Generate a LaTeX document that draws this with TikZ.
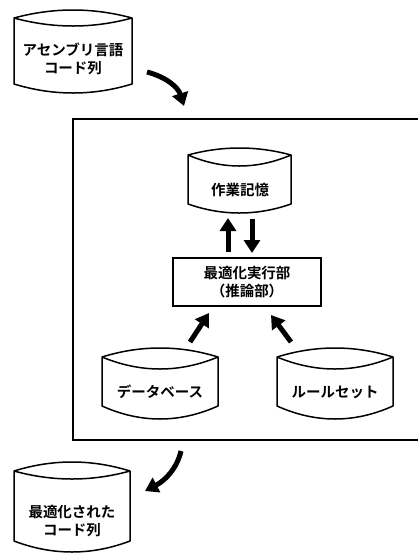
\documentclass[tikz,border=0pt]{standalone}
\usepackage{fontspec}
\newfontfamily\jp{Noto Sans CJK JP Bold}
\usetikzlibrary{arrows.meta}
\tikzset{
  cyl/.style={draw=black, line width=1.5pt, line join=round},
  lbl/.style={font=\jp\fontsize{14.5pt}{18pt}\selectfont, align=center, inner sep=0pt},
  frame/.style={draw=black, line width=1.8pt},
  fat/.style={line width=5pt, -{Triangle[length=13pt,width=16pt]}},
}
% x1, x2, ypeak, yside-top, ylens, yside-bottom, ybottom
\newcommand\cylshape[7]{%
  \draw[cyl] (#1,#4) .. controls ({#1+(#2-#1)/3},{#4+(#3-#4)*4/3}) and ({#2-(#2-#1)/3},{#4+(#3-#4)*4/3}) .. (#2,#4)
     .. controls ({#2-(#2-#1)/3},{#4+(#5-#4)*4/3}) and ({#1+(#2-#1)/3},{#4+(#5-#4)*4/3}) .. (#1,#4)
     -- (#1,#6) .. controls ({#1+(#2-#1)/3},{#6+(#7-#6)*4/3}) and ({#2-(#2-#1)/3},{#6+(#7-#6)*4/3}) .. (#2,#6) -- (#2,#4);
}
\begin{document}
\begin{tikzpicture}[x=1pt,y=-1pt]
\useasboundingbox (0,0) rectangle (418,558);
% outer frame (right side outside picture)
\draw[frame] (418,119) -- (73,119) -- (73,440) -- (418,440);
% cylinders
\cylshape{14}{132}{10}{18}{26}{84}{93}
\node[lbl] (asm) at (73,59) {アセンブリ言語\\コード列};
\cylshape{188}{291}{148}{155}{166}{204}{213}
\node[lbl] (work) at (240,190) {作業記憶};
\node[draw=black, line width=1.4pt, minimum width=148pt, minimum height=48pt, lbl] (opt) at (247,282) {最適化実行部\\（推論部）};
\cylshape{102}{218}{348}{357}{369}{406}{419}
\node[lbl] (db) at (160,392) {データベース};
\cylshape{277}{393}{348}{357}{369}{406}{419}
\node[lbl] (rule) at (335,392) {ルールセット};
\cylshape{14}{130}{462}{471}{479}{541}{552}
\node[lbl] (res) at (72,521) {最適化された\\コード列};
% arrows
\coordinate (a1s) at (147,72);
\coordinate (a1e) at (184,106);
\draw[fat] (a1s) .. controls (166,77) and (178,87) .. (a1e);
\coordinate (u1) at (228,252);
\coordinate (u2) at (228,218);
\draw[fat] (u1) -- (u2);
\coordinate (d1) at (252,219);
\coordinate (d2) at (252,253);
\draw[fat] (d1) -- (d2);
\coordinate (l1) at (190,342);
\coordinate (l2) at (209,313);
\draw[fat] (l1) -- (l2);
\coordinate (r1) at (291,342);
\coordinate (r2) at (271,315);
\draw[fat] (r1) -- (r2);
\coordinate (a2s) at (181,451);
\coordinate (a2e) at (145,491);
\draw[fat] (a2s) .. controls (177,468) and (166,480) .. (a2e);
\end{tikzpicture}
\end{document}
